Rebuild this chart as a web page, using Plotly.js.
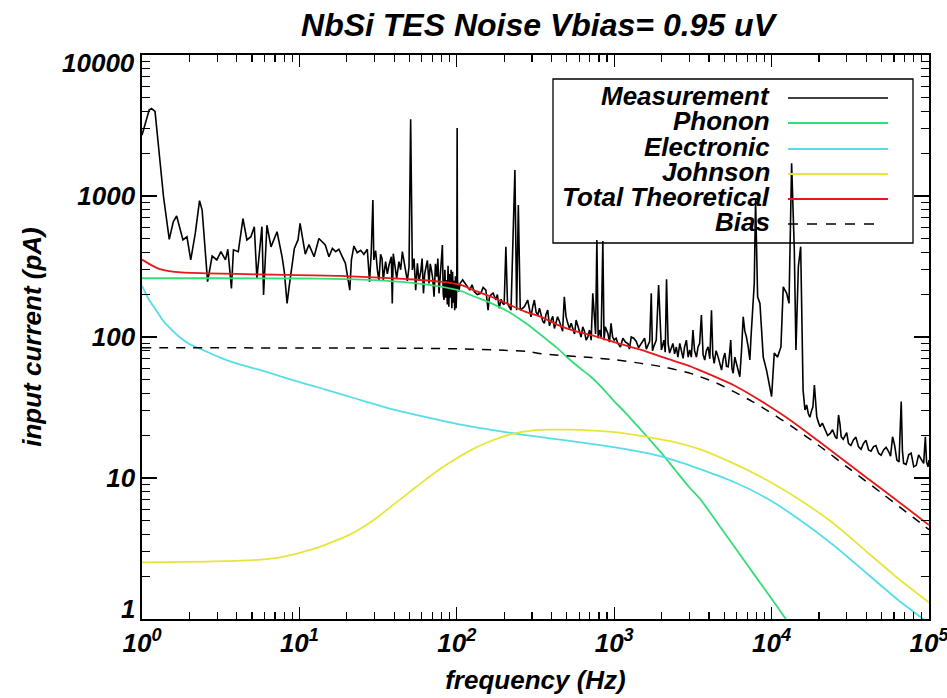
<!DOCTYPE html>
<html>
<head>
<meta charset="utf-8">
<script src="https://cdn.plot.ly/plotly-3.0.1.min.js"></script>
<style>html,body{margin:0;padding:0;background:#fff;}#chart{width:947px;height:698px;}</style>
</head>
<body>
<div id="chart"></div>
<script>
// ---------------- data ----------------
// measurement: [frequency (Hz), input current (pA)]
const measurementPoints = [
  [1.00,2700],[1.11,4070],[1.15,4170],[1.21,3980],[1.37,988],[1.49,493],[1.58,657],[1.66,721],[1.82,488],[1.93,514],
  [2.04,352],[2.18,544],[2.32,927],[2.41,795],[2.61,247],[2.79,375],[2.99,352],[3.17,403],[3.39,352],[3.51,419],
  [3.70,221],[3.81,415],[4.09,403],[4.38,690],[4.64,488],[4.92,514],[5.17,606],[5.37,261],[5.78,606],[5.92,199],
  [6.22,620],[6.60,436],[7.21,558],[7.76,371],[8.02,290],[8.35,173],[8.60,226],[8.98,315],[9.29,425],[9.80,488],
  [10.1,640],[10.9,387],[11.5,452],[12.4,371],[13.3,500],[14.6,449],[15.4,371],[16.2,425],[17.0,403],[17.8,419],
  [18.7,371],[19.6,333],[20.9,215],[21.4,352],[22.2,442],[23.3,396],[24.5,412],[25.7,386],[27.0,419],[27.9,247],
  [28.6,396],[29.3,937],[29.7,352],[30.5,410],[31.3,299],[32.0,250],[32.8,386],[33.5,360],[34.1,254],[35.3,342],
  [36.2,280],[37.1,324],[38.4,371],[38.9,173],[39.5,390],[40.3,333],[41.5,260],[42.9,342],[44.0,300],[45.1,403],
  [46.2,350],[47.3,299],[48.5,250],[49.7,315],[50.9,3500],[52.2,299],[53.5,360],[54.8,215],[56.2,333],[57.5,250],
  [59.0,290],[60.2,360],[61.4,204],[62.5,280],[63.5,315],[65.0,350],[66.6,240],[67.8,330],[69.0,299],[70.3,260],
  [71.7,193],[73.2,330],[74.6,268],[75.8,360],[77.1,204],[78.0,250],[79.0,299],[81.0,449],[82.0,200],[83.0,183],
  [84.0,300],[85.0,190],[86.3,254],[87.0,170],[88.0,320],[89.0,164],[90.0,280],[91.0,190],[92.0,300],[93.0,160],
  [94.0,290],[95.0,175],[96.0,250],[97.0,155],[98.0,270],[99.0,160],[100.0,230],[100.5,3030],[101.0,250],[103,210],
  [105,240],[109,254],[113,240],[117,227],[121,215],[125,235],[129,210],[135,200],[142,204],[147,225],
  [153,215],[158,155],[161,190],[165,199],[170,205],[177,183],[181,200],[186,160],[191,185],[196,173],
  [200,170],[205,437],[210,173],[221,155],[234,1528],[240,155],[246,863],[253,155],[269,164],[282,183],
  [296,139],[304,165],[311,183],[319,150],[327,143],[335,160],[343,146],[351,130],[360,125],[369,145],
  [378,155],[388,120],[398,132],[407,140],[417,115],[427,125],[437,139],[448,130],[459,118],[470,110],
  [482,193],[494,140],[507,125],[520,115],[533,125],[546,112],[560,105],[573,132],[587,120],[601,106],
  [616,100],[631,118],[647,110],[663,95],[680,100],[697,112],[714,95],[731,204],[750,118],[762,105],
  [776,488],[791,98],[806,112],[826,100],[847,480],[862,95],[877,118],[895,110],[912,106],[933,92],
  [955,125],[977,100],[1000,95],[1028,98],[1056,90],[1095,85],[1136,98],[1180,92],[1222,90],[1250,82],
  [1283,100],[1330,98],[1380,93],[1430,84],[1485,90],[1520,95],[1560,98],[1600,82],[1640,88],[1680,93],
  [1720,204],[1750,80],[1780,85],[1850,95],[1915,234],[1995,81],[2020,85],[2070,95],[2110,78],[2150,257],
  [2200,90],[2250,77],[2360,90],[2420,76],[2480,85],[2540,72],[2610,90],[2680,76],[2740,70.6],[2800,85],
  [2875,95],[2950,72],[3020,81],[3090,72],[3165,112],[3240,80],[3330,72],[3410,85],[3490,90],[3580,143],
  [3670,75],[3760,68.7],[3850,80],[3950,85],[4050,70],[4150,155],[4230,75],[4315,65],[4440,80],[4575,72],
  [4690,63],[4810,58.3],[4930,70],[5050,77],[5170,62],[5300,61.5],[5400,75],[5500,95],[5600,60],[5700,55.3],
  [5840,72],[5985,65],[6130,58],[6280,52.3],[6440,80],[6600,139],[6760,110],[6920,100],[7100,85],[7275,68.7],
  [7400,100],[7530,132],[7760,240],[7910,937],[8150,193],[8430,173],[8850,72],[9290,58],[9770,44.4],[10000,37.8],
  [10400,77],[10900,72],[11460,85],[11860,227],[12470,204],[12900,173],[13400,1705],[13940,414],[14280,81],[14790,315],
  [15300,437],[15850,42],[16290,30.4],[16700,33],[17100,28.7],[17500,27],[18000,30.4],[18300,32],[18700,45.7],[19000,35],
  [19360,27.2],[19800,25],[20300,23.1],[21000,24.5],[21880,21.9],[22700,20],[23570,20.7],[24400,22],[25370,19.6],[26000,19],
  [26620,28],[27200,24],[27670,19.6],[28500,18.8],[29330,20],[30000,21],[30780,17.6],[31900,17],[33100,18.6],[34300,19.5],
  [35640,16.7],[37000,16],[38370,17.6],[39800,18.5],[41300,15.8],[42800,15.5],[44460,16.7],[46000,17],[47860,15],[49600,14.5],
  [51460,15.8],[53400,16.5],[55400,15.4],[57000,14.3],[58700,19.6],[60500,17],[62500,13.4],[64500,13],[66600,34.8],[67800,15.5],
  [69000,12.7],[71600,12.5],[74300,14.6],[77000,15],[80000,12],[83000,12.3],[85900,14.6],[89000,13.5],[92500,12.7],[94800,19.6],
  [96500,13],[98600,12],[100000,13.4]
];
const measFreq = measurementPoints.map(p => p[0]);
const measCurrent = measurementPoints.map(p => p[1]);

const phononFreq = [1, 3, 10, 20, 30, 50, 79, 106, 130, 165, 220, 269, 301, 377, 437, 508, 600, 714, 850, 1000, 1156, 1400, 1683, 2000, 2455, 3000, 3548, 4467, 5623, 7943, 10000, 12470, 15850];
const phononCurrent = [261, 261, 260, 257, 253, 243, 228, 212, 193, 174, 148, 127, 116, 95, 83, 71, 60.7, 52, 42.9, 35, 29.7, 23.5, 18.7, 15, 11.3, 8.6, 7.0, 4.9, 3.42, 1.99, 1.39, 0.98, 0.68];

const electronicFreq = [1, 1.11, 1.23, 1.35, 1.49, 1.73, 2.0, 2.44, 3.11, 3.97, 6.12, 8.9, 12.9, 18.8, 27.4, 39.8, 57.9, 84.1, 122, 178, 259, 377, 547, 795, 1156, 1683, 2448, 3556, 5715, 9310, 15140, 24660, 40180, 65460, 92000, 100000];
const electronicCurrent = [230, 183, 155, 132, 117, 100, 89.1, 80.9, 71.8, 65, 56.8, 49.8, 44.2, 39, 34.4, 30.5, 27.7, 25.2, 23.2, 21.7, 20.3, 19.2, 18.2, 17.2, 16.1, 14.9, 13.3, 11.5, 9.4, 7.18, 5.04, 3.35, 2.11, 1.33, 1.0, 0.93];

const johnsonFreq = [1, 1.99, 4.21, 5.68, 7.67, 10.3, 12.9, 16.2, 20.3, 25.4, 31.8, 39.8, 49.9, 62.4, 78.1, 97.8, 122, 153, 192, 240, 301, 377, 508, 686, 925, 1247, 1683, 2448, 3556, 5715, 9310, 15140, 24660, 40180, 65460, 100000];
const johnsonCurrent = [2.52, 2.54, 2.59, 2.64, 2.75, 2.97, 3.19, 3.52, 3.90, 4.49, 5.34, 6.5, 7.91, 9.62, 11.6, 13.6, 15.7, 17.7, 19.5, 20.9, 21.7, 22.0, 22.0, 21.8, 21.3, 20.5, 19.4, 17.9, 15.9, 12.7, 9.68, 6.98, 4.78, 3.0, 1.89, 1.31];

const totalFreq = [1, 1.26, 1.61, 2.6, 3.97, 6.8, 18, 49, 79, 106, 130, 165, 220, 269, 343, 437, 550, 714, 1000, 1486, 2100, 3090, 3510, 4500, 5750, 7500, 9300, 13430, 19950, 31620, 50120, 79430, 100000];
const totalCurrent = [354, 307, 290, 283, 280, 277, 271, 257, 247, 234, 213, 193, 168, 152, 139, 122, 111, 103, 92, 81, 71, 61.5, 58, 51.5, 45.5, 38.5, 33.2, 25.3, 18.2, 12.3, 8.35, 5.65, 4.64];

const biasFreq = [1, 10, 50, 100, 200, 279, 343, 714, 1000, 1486, 2100, 3090, 3510, 4500, 5750, 7500, 9300, 13430, 19950, 31620, 50120, 79430, 100000];
const biasCurrent = [84, 83.6, 83.2, 82.5, 80.5, 79, 76, 71.5, 69, 65, 61, 55, 52.3, 47, 41, 35, 30.3, 23.2, 17.0, 11.5, 7.8, 5.25, 4.3];

const xTickVals = [1, 10, 100, 1000, 10000, 100000];
const xTickText = ['10<sup>0</sup>', '10<sup>1</sup>', '10<sup>2</sup>', '10<sup>3</sup>', '10<sup>4</sup>', '10<sup>5</sup>'];
const yTickVals = [1, 10, 100, 1000, 10000];
const yTickText = ['1', '10', '100', '1000', '10000'];

const legendLabels = ['Measurement', 'Phonon', 'Electronic', 'Johnson', 'Total Theoretical', 'Bias'];

// ---------------- styling ----------------
const colors = {meas: '#000000', phonon: '#33dd77', elec: '#55dde8', john: '#e6e63a', total: '#e81818', bias: '#000000'};
const FONT = 'Liberation Sans, Arial, Helvetica, sans-serif';
const bi = (size) => ({family: FONT, size: size, color: '#000', weight: 'bold', style: 'italic'});

const L = 142, R = 929, T = 55, B = 619;
const px = (x) => (x - L) / (R - L);
const py = (y) => (B - y) / (B - T);

function minorTicks(decades) {
  const v = [];
  for (let k = 0; k < decades; k++) for (let m = 2; m <= 9; m++) v.push(m * Math.pow(10, k));
  return v;
}

const smooth = {shape: 'spline', smoothing: 0.8};
const traces = [
  {x: measFreq, y: measCurrent, mode: 'lines', line: {color: colors.meas, width: 1.6}},
  {x: phononFreq, y: phononCurrent, mode: 'lines', line: Object.assign({color: colors.phonon, width: 1.8}, smooth)},
  {x: electronicFreq, y: electronicCurrent, mode: 'lines', line: Object.assign({color: colors.elec, width: 1.8}, smooth)},
  {x: johnsonFreq, y: johnsonCurrent, mode: 'lines', line: Object.assign({color: colors.john, width: 1.8}, smooth)},
  {x: totalFreq, y: totalCurrent, mode: 'lines', line: Object.assign({color: colors.total, width: 1.8}, smooth)},
  {x: biasFreq, y: biasCurrent, mode: 'lines', line: Object.assign({color: colors.bias, width: 1.5, dash: '9px,8px'}, smooth)}
];

// hand-drawn legend: right-aligned labels, sample lines to their right
const legendRowsY = [98, 123, 149, 174, 199, 224];
const legendColors = [colors.meas, colors.phonon, colors.elec, colors.john, colors.total, colors.bias];
const annotations = legendLabels.map((t, i) => ({
  text: t, xref: 'paper', yref: 'paper', x: px(772), y: py(legendRowsY[i] - 2),
  xanchor: 'right', yanchor: 'middle', showarrow: false, font: bi(26)
}));
// end y-tick labels are kept inside the frame, as in the reference
annotations.push({text: yTickText[0], xref: 'paper', yref: 'paper', x: px(137), y: py(609), xanchor: 'right', yanchor: 'middle', showarrow: false, font: bi(26)});
annotations.push({text: yTickText[4], xref: 'paper', yref: 'paper', x: px(137), y: py(63), xanchor: 'right', yanchor: 'middle', showarrow: false, font: bi(26)});

const shapes = [
  {type: 'rect', xref: 'paper', yref: 'paper', x0: px(553), x1: px(913), y0: py(243), y1: py(79),
   line: {color: '#000', width: 1.3}, fillcolor: 'rgba(0,0,0,0)', layer: 'above'}
].concat(legendLabels.map((t, i) => ({
  type: 'line', xref: 'paper', yref: 'paper', x0: px(788), x1: px(i === 5 ? 880 : 888),
  y0: py(legendRowsY[i]), y1: py(legendRowsY[i]),
  line: {color: legendColors[i], width: i === 0 || i === 5 ? 1.3 : 1.8, dash: i === 5 ? '10px,9px' : 'solid'},
  layer: 'above'
})));

const axisCommon = {
  type: 'log', showgrid: false, zeroline: false, showline: true, linecolor: '#000', linewidth: 1.6,
  mirror: 'allticks', ticks: 'inside', tickcolor: '#000', tickwidth: 1.4, ticklabeloverflow: 'allow',
  tickfont: bi(26)
};

const layout = {
  width: 947, height: 698,
  margin: {l: L, r: 947 - R, t: T, b: 698 - B, pad: 0},
  paper_bgcolor: '#fff', plot_bgcolor: '#fff',
  showlegend: false,
  title: {text: 'NbSi TES Noise Vbias= 0.95 uV', font: bi(32), x: 538 / 947, xref: 'container', xanchor: 'center', y: 1 - 25 / 698, yref: 'container', yanchor: 'middle'},
  xaxis: Object.assign({}, axisCommon, {
    range: [0, 5], tickmode: 'array', tickvals: xTickVals, ticktext: xTickText, ticklen: 12,
    minor: {tickmode: 'array', tickvals: minorTicks(5), ticks: 'inside', ticklen: 7, tickcolor: '#000', tickwidth: 1.2, showgrid: false},
    title: {text: 'frequency (Hz)', font: bi(26), standoff: 14}
  }),
  yaxis: Object.assign({}, axisCommon, {
    range: [0, 4], tickmode: 'array', tickvals: yTickVals, ticktext: ['', yTickText[1], yTickText[2], yTickText[3], ''], ticklen: 15,
    minor: {tickmode: 'array', tickvals: minorTicks(4), ticks: 'inside', ticklen: 8, tickcolor: '#000', tickwidth: 1.2, showgrid: false},
    title: {text: 'input current (pA)', font: bi(26), standoff: 28}
  }),
  annotations: annotations,
  shapes: shapes
};

Plotly.newPlot('chart', traces, layout, {displayModeBar: false, staticPlot: true});
</script>
</body>
</html>
